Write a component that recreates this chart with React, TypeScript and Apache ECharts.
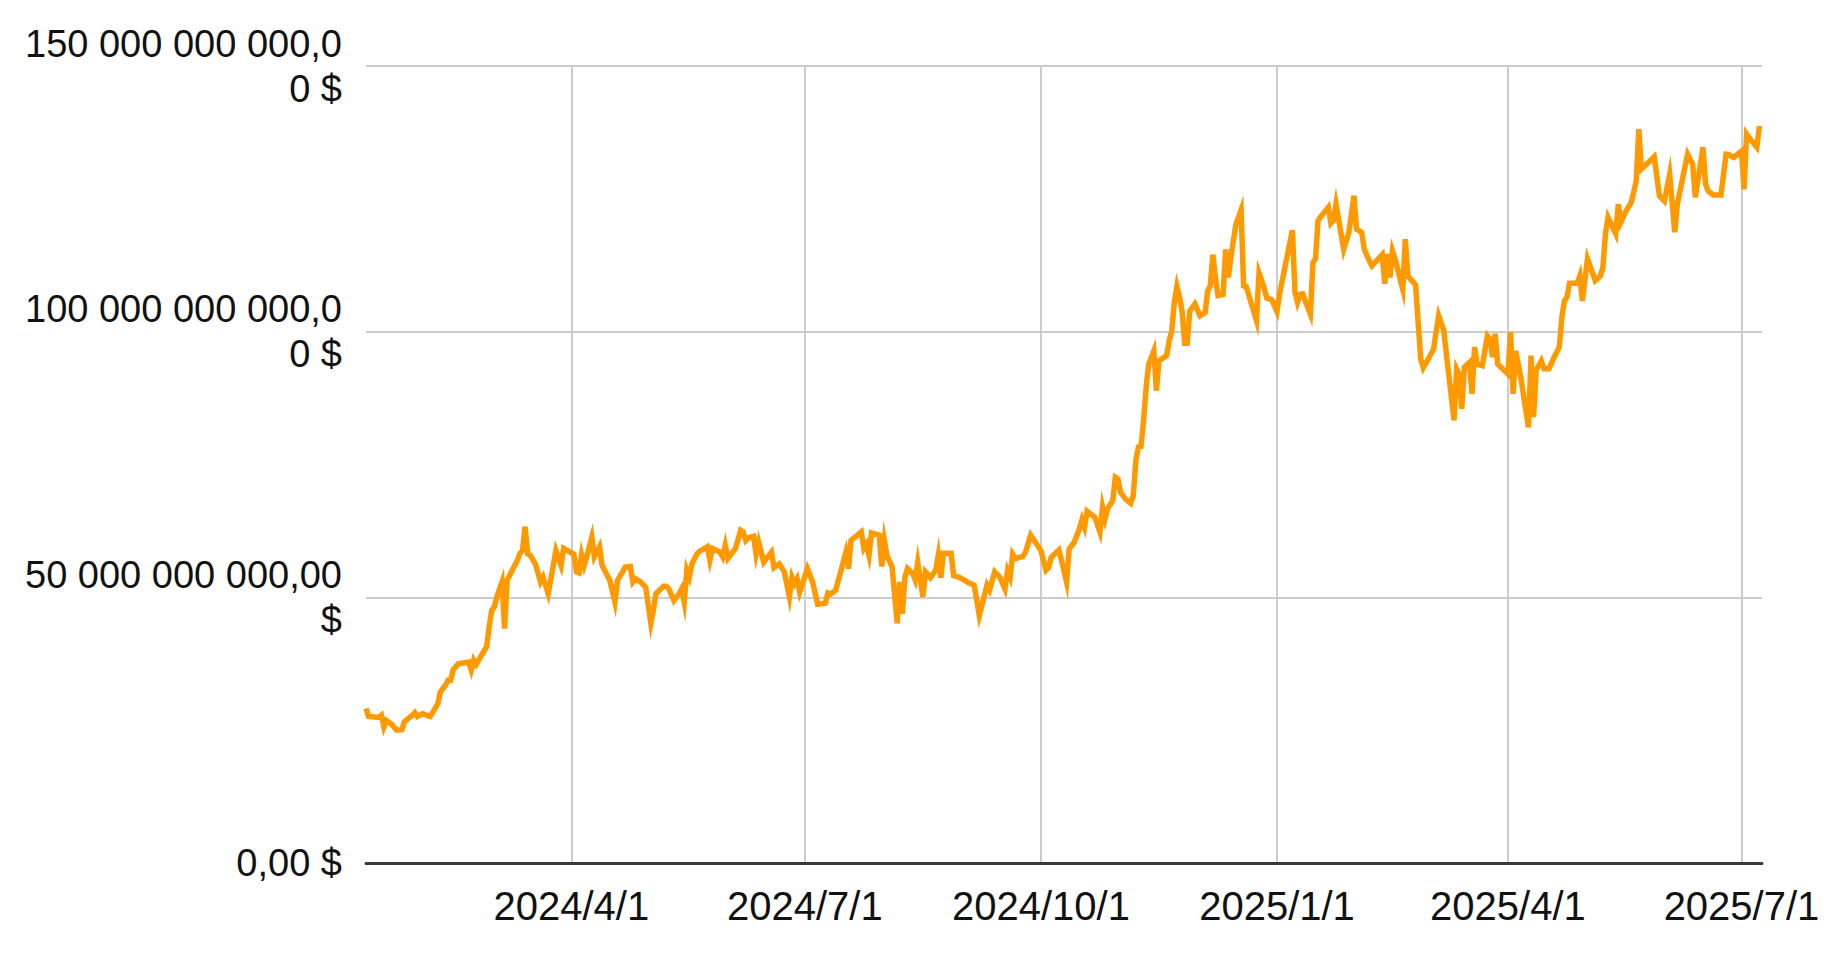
import React, { useEffect, useRef } from 'react';
import * as echarts from 'echarts';

// 日付（取引日）
const dates = [
  '2024-01-12', '2024-01-13', '2024-01-17', '2024-01-18', '2024-01-19', '2024-01-20', '2024-01-22', '2024-01-24',
  '2024-01-26', '2024-01-27', '2024-01-30', '2024-01-31', '2024-02-01', '2024-02-03', '2024-02-06', '2024-02-07',
  '2024-02-09', '2024-02-10', '2024-02-12', '2024-02-13', '2024-02-14', '2024-02-15', '2024-02-17', '2024-02-21',
  '2024-02-22', '2024-02-23', '2024-02-24', '2024-02-26', '2024-02-28', '2024-02-29', '2024-03-01', '2024-03-02',
  '2024-03-03', '2024-03-05', '2024-03-06', '2024-03-07', '2024-03-09', '2024-03-11', '2024-03-12', '2024-03-13',
  '2024-03-14', '2024-03-15', '2024-03-16', '2024-03-18', '2024-03-20', '2024-03-21', '2024-03-23', '2024-03-26',
  '2024-03-28', '2024-03-29', '2024-04-02', '2024-04-03', '2024-04-04', '2024-04-05', '2024-04-06', '2024-04-07',
  '2024-04-09', '2024-04-10', '2024-04-12', '2024-04-13', '2024-04-16', '2024-04-18', '2024-04-19', '2024-04-21',
  '2024-04-22', '2024-04-24', '2024-04-25', '2024-04-26', '2024-04-28', '2024-04-30', '2024-05-02', '2024-05-03',
  '2024-05-04', '2024-05-07', '2024-05-08', '2024-05-09', '2024-05-11', '2024-05-13', '2024-05-14', '2024-05-15',
  '2024-05-16', '2024-05-17', '2024-05-18', '2024-05-20', '2024-05-21', '2024-05-24', '2024-05-25', '2024-05-26',
  '2024-05-29', '2024-05-30', '2024-05-31', '2024-06-01', '2024-06-04', '2024-06-06', '2024-06-07', '2024-06-08',
  '2024-06-09', '2024-06-11', '2024-06-12', '2024-06-13', '2024-06-15', '2024-06-18', '2024-06-19', '2024-06-21',
  '2024-06-23', '2024-06-25', '2024-06-26', '2024-06-27', '2024-06-28', '2024-06-29', '2024-07-02', '2024-07-04',
  '2024-07-06', '2024-07-09', '2024-07-10', '2024-07-11', '2024-07-13', '2024-07-17', '2024-07-18', '2024-07-19',
  '2024-07-23', '2024-07-24', '2024-07-25', '2024-07-26', '2024-07-27', '2024-07-30', '2024-07-31', '2024-08-01',
  '2024-08-02', '2024-08-04', '2024-08-06', '2024-08-07', '2024-08-08', '2024-08-09', '2024-08-10', '2024-08-12',
  '2024-08-13', '2024-08-14', '2024-08-16', '2024-08-17', '2024-08-19', '2024-08-21', '2024-08-22', '2024-08-23',
  '2024-08-24', '2024-08-27', '2024-08-28', '2024-08-30', '2024-09-01', '2024-09-03', '2024-09-05', '2024-09-07',
  '2024-09-10', '2024-09-11', '2024-09-13', '2024-09-15', '2024-09-17', '2024-09-18', '2024-09-19', '2024-09-20',
  '2024-09-21', '2024-09-24', '2024-09-25', '2024-09-27', '2024-10-01', '2024-10-03', '2024-10-04', '2024-10-05',
  '2024-10-08', '2024-10-09', '2024-10-11', '2024-10-12', '2024-10-14', '2024-10-16', '2024-10-17', '2024-10-18',
  '2024-10-19', '2024-10-22', '2024-10-24', '2024-10-25', '2024-10-26', '2024-10-27', '2024-10-29', '2024-10-30',
  '2024-10-31', '2024-11-01', '2024-11-03', '2024-11-05', '2024-11-06', '2024-11-07', '2024-11-08', '2024-11-09',
  '2024-11-10', '2024-11-11', '2024-11-12', '2024-11-14', '2024-11-15', '2024-11-16', '2024-11-19', '2024-11-20',
  '2024-11-21', '2024-11-22', '2024-11-23', '2024-11-24', '2024-11-25', '2024-11-26', '2024-11-27', '2024-11-28',
  '2024-11-30', '2024-12-02', '2024-12-04', '2024-12-05', '2024-12-06', '2024-12-07', '2024-12-08', '2024-12-09',
  '2024-12-11', '2024-12-12', '2024-12-13', '2024-12-14', '2024-12-16', '2024-12-18', '2024-12-19', '2024-12-20',
  '2024-12-24', '2024-12-25', '2024-12-27', '2024-12-28', '2024-12-30', '2025-01-01', '2025-01-02', '2025-01-07',
  '2025-01-08', '2025-01-09', '2025-01-10', '2025-01-11', '2025-01-14', '2025-01-15', '2025-01-16', '2025-01-17',
  '2025-01-18', '2025-01-21', '2025-01-22', '2025-01-23', '2025-01-24', '2025-01-27', '2025-01-29', '2025-01-31',
  '2025-02-01', '2025-02-03', '2025-02-04', '2025-02-06', '2025-02-07', '2025-02-11', '2025-02-12', '2025-02-13',
  '2025-02-14', '2025-02-15', '2025-02-16', '2025-02-19', '2025-02-20', '2025-02-21', '2025-02-24', '2025-02-26',
  '2025-02-27', '2025-03-01', '2025-03-03', '2025-03-05', '2025-03-07', '2025-03-08', '2025-03-11', '2025-03-12',
  '2025-03-13', '2025-03-14', '2025-03-15', '2025-03-17', '2025-03-18', '2025-03-19', '2025-03-20', '2025-03-22',
  '2025-03-24', '2025-03-25', '2025-03-26', '2025-03-27', '2025-03-28', '2025-04-01', '2025-04-02', '2025-04-03',
  '2025-04-04', '2025-04-06', '2025-04-09', '2025-04-10', '2025-04-11', '2025-04-12', '2025-04-14', '2025-04-15',
  '2025-04-17', '2025-04-19', '2025-04-21', '2025-04-22', '2025-04-23', '2025-04-24', '2025-04-25', '2025-04-28',
  '2025-04-29', '2025-04-30', '2025-05-02', '2025-05-05', '2025-05-07', '2025-05-08', '2025-05-09', '2025-05-10',
  '2025-05-13', '2025-05-14', '2025-05-15', '2025-05-17', '2025-05-19', '2025-05-20', '2025-05-21', '2025-05-22',
  '2025-05-23', '2025-05-25', '2025-05-28', '2025-05-30', '2025-06-01', '2025-06-03', '2025-06-05', '2025-06-06',
  '2025-06-10', '2025-06-12', '2025-06-13', '2025-06-16', '2025-06-17', '2025-06-18', '2025-06-20', '2025-06-23',
  '2025-06-25', '2025-06-26', '2025-06-28', '2025-07-01', '2025-07-02', '2025-07-03', '2025-07-04', '2025-07-07',
  '2025-07-08',
];

// 純資産総額（十億ドル）
const assetsBn = [
  29.1, 27.6, 27.4, 27.8, 25.6, 26.8, 26.1, 25.0,
  25.1, 26.6, 27.8, 28.3, 27.6, 28.1, 27.6, 28.3,
  30.0, 32.2, 33.5, 34.4, 34.4, 36.4, 37.5, 37.8,
  36.3, 38.2, 37.4, 39.1, 40.7, 44.5, 47.6, 48.2,
  50.1, 52.9, 44.1, 53.2, 55.1, 57.0, 58.3, 58.8,
  63.3, 58.2, 57.9, 56.3, 52.9, 53.8, 50.7, 58.8,
  56.0, 59.2, 58.1, 54.8, 54.6, 58.0, 56.0, 57.6,
  61.3, 57.6, 59.5, 56.0, 53.2, 49.1, 53.2, 54.8,
  55.7, 55.8, 52.9, 53.5, 52.9, 51.9, 45.1, 47.6,
  50.7, 52.1, 52.1, 51.6, 49.4, 50.7, 51.6, 49.1,
  55.1, 53.8, 56.3, 58.2, 58.7, 59.5, 57.0, 59.2,
  58.5, 57.6, 59.8, 57.3, 59.2, 62.6, 62.3, 60.7,
  61.2, 61.5, 58.1, 60.4, 56.6, 58.5, 55.6, 56.3,
  54.8, 50.1, 53.8, 52.6, 53.5, 51.0, 55.4, 52.9,
  48.7, 48.9, 50.8, 50.6, 51.3, 58.5, 55.4, 60.7,
  62.3, 59.2, 60.0, 57.9, 62.1, 61.7, 55.8, 60.7,
  57.9, 55.7, 45.1, 52.9, 46.9, 53.8, 55.4, 54.5,
  53.3, 56.6, 50.1, 54.8, 53.7, 55.1, 57.9, 53.7,
  58.3, 58.3, 54.1, 53.8, 53.3, 52.7, 52.3, 46.6,
  52.3, 51.4, 54.8, 53.8, 51.6, 55.0, 53.8, 58.1,
  57.3, 57.7, 58.5, 61.7, 58.8, 55.1, 55.6, 57.5,
  58.9, 57.0, 52.9, 59.1, 60.4, 62.9, 64.6, 63.2,
  66.2, 65.1, 62.3, 67.0, 64.8, 66.7, 68.2, 72.6,
  72.3, 69.8, 68.5, 67.7, 69.2, 75.8, 78.3, 78.4,
  83.3, 89.5, 93.9, 96.4, 88.9, 94.5, 95.5, 98.3,
  100.2, 105.5, 108.5, 106.5, 103.9, 97.8, 97.8, 103.9,
  105.2, 103.0, 103.6, 107.7, 108.6, 114.5, 110.2, 106.8,
  107.0, 115.5, 110.2, 114.0, 120.2, 122.9, 108.6, 108.5,
  102.1, 111.0, 108.2, 106.3, 106.0, 103.8, 107.1, 119.1,
  107.5, 105.5, 107.0, 107.1, 103.3, 113.0, 113.7, 120.9,
  121.6, 123.4, 120.4, 120.9, 124.0, 115.5, 118.7, 125.6,
  119.3, 118.7, 115.5, 113.3, 112.4, 114.5, 109.0, 114.6,
  110.2, 115.2, 113.7, 108.0, 117.4, 110.5, 108.8, 94.9,
  93.2, 94.9, 96.7, 103.0, 100.2, 95.8, 83.3, 93.0,
  92.0, 85.5, 93.3, 94.2, 88.3, 97.1, 93.9, 93.6,
  99.2, 98.6, 95.2, 99.6, 93.9, 92.0, 99.9, 88.3,
  96.4, 91.4, 82.0, 95.5, 83.9, 92.8, 94.5, 93.0,
  93.0, 95.2, 97.1, 102.7, 105.8, 106.5, 109.1, 109.1,
  110.5, 105.8, 113.7, 109.6, 110.5, 112.1, 118.4, 121.5,
  118.4, 124.0, 120.6, 122.7, 124.3, 126.2, 128.4, 138.1,
  130.6, 131.5, 132.9, 125.6, 124.6, 129.6, 118.7, 124.0,
  133.4, 131.5, 125.3, 134.7, 127.8, 126.5, 125.7, 125.7,
  133.4, 133.3, 132.8, 134.0, 126.8, 137.2, 136.5, 134.7,
  138.7,
];

// 軸の目盛り
const xTickDates = ['2024-04-01', '2024-07-01', '2024-10-01', '2025-01-01', '2025-04-01', '2025-07-01'];
const yTickValues = [0, 50e9, 100e9, 150e9];
const yTickLabels = ['0,00 $', '50 000 000 000,00\n$', '100 000 000 000,0\n0 $', '150 000 000 000,0\n0 $'];

const toTime = (s: string) => {
  const [y, m, d] = s.split('-').map(Number);
  return new Date(y, m - 1, d).getTime();
};

const App: React.FC = () => {
  const chartRef = useRef<HTMLDivElement>(null);

  useEffect(() => {
    if (!chartRef.current) return;
    const chart = echarts.init(chartRef.current, undefined, { renderer: 'svg' });

    const seriesData = dates.map((d, i) => [toTime(d), assetsBn[i] * 1e9]);
    const xTicks = xTickDates.map(toTime);

    const option = {
      animation: false,
      backgroundColor: '#ffffff',
      grid: {
        left: 366,
        right: 62,
        top: 66,
        bottom: 109,
        containLabel: false,
        outerBoundsMode: 'none',
      },
      xAxis: {
        type: 'value',
        min: toTime('2024-01-12'),
        max: toTime('2025-07-09'),
        axisLine: { show: true, onZero: false, lineStyle: { color: '#3a3a3a', width: 3 } },
        axisTick: { show: false, customValues: xTicks },
        splitLine: { show: true, lineStyle: { color: '#cccccc', width: 2 } },
        axisLabel: {
          customValues: xTicks,
          margin: 23,
          color: '#111111',
          fontSize: 40,
          fontFamily: 'Liberation Sans',
          hideOverlap: false,
          formatter: (v: number) => {
            const d = new Date(v);
            return `${d.getFullYear()}/${d.getMonth() + 1}/${d.getDate()}`;
          },
        },
      },
      yAxis: {
        type: 'value',
        min: 0,
        max: 150e9,
        interval: 50e9,
        axisLine: { show: false },
        axisTick: { show: false },
        splitLine: { show: true, lineStyle: { color: '#cccccc', width: 2 } },
        axisLabel: {
          margin: 24,
          color: '#111111',
          fontSize: 38,
          lineHeight: 45,
          fontFamily: 'Liberation Sans',
          align: 'right',
          formatter: (v: number) => {
            const i = yTickValues.indexOf(v);
            return i >= 0 ? yTickLabels[i] : '';
          },
        },
      },
      series: [
        {
          type: 'line',
          data: seriesData,
          showSymbol: false,
          symbol: 'none',
          lineStyle: { color: '#ff9900', width: 5.5, join: 'miter', miterLimit: 8 },
          z: 3,
        },
      ],
    };

    chart.setOption(option);

    const handleResize = () => chart.resize();
    window.addEventListener('resize', handleResize);
    return () => {
      window.removeEventListener('resize', handleResize);
      chart.dispose();
    };
  }, []);

  return (
    <div
      ref={chartRef}
      style={{ position: 'fixed', left: 0, top: 0, width: '1824px', height: '972px', background: '#fff' }}
    />
  );
};

export default App;
